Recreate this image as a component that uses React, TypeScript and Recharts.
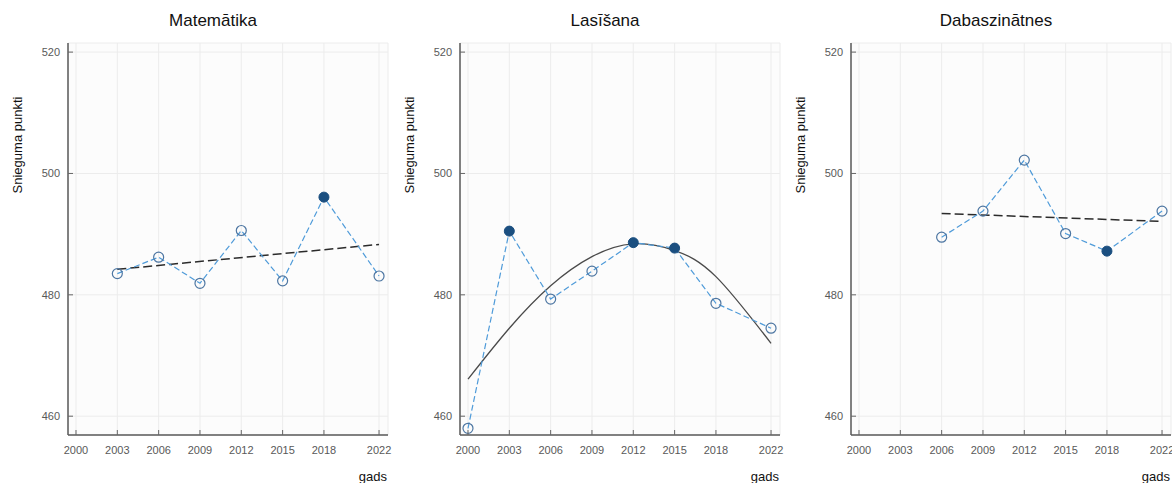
import React from "react";
import { LineChart, Line, XAxis, YAxis, CartesianGrid } from "recharts";

const X_TICKS = [2000, 2003, 2006, 2009, 2012, 2015, 2018, 2022];
const Y_TICKS = [460, 480, 500, 520];

const mathYears = [2003, 2006, 2009, 2012, 2015, 2018, 2022];
const mathScores = [483.5, 486.2, 481.9, 490.6, 482.3, 496.1, 483.1];
const mathFilled = [false, false, false, false, false, true, false];
const mathTrendYears = [2003, 2022];
const mathTrend = [484.2, 488.3];

const readYears = [2000, 2003, 2006, 2009, 2012, 2015, 2018, 2022];
const readScores = [458.0, 490.5, 479.3, 483.9, 488.6, 487.7, 478.6, 474.5];
const readFilled = [false, true, false, false, true, true, false, false];
const readCurveYears = [2000, 2003, 2006, 2009, 2012, 2015, 2018, 2022];
const readCurve = [466.1, 474.5, 481.5, 486.3, 488.4, 487.3, 483.0, 472.0];

const sciYears = [2006, 2009, 2012, 2015, 2018, 2022];
const sciScores = [489.5, 493.8, 502.2, 490.1, 487.2, 493.8];
const sciFilled = [false, false, false, false, true, false];
const sciTrendYears = [2006, 2022];
const sciTrend = [493.4, 492.1];

const FONT = '"Liberation Sans", Arial, sans-serif';
const W = 392;
const H = 483;

type Pt = { year: number; score: number; filled?: boolean };

const toPts = (years: number[], vals: number[], filled?: boolean[]): Pt[] =>
  years.map((y, i) => ({ year: y, score: vals[i], filled: filled ? filled[i] : false }));

const XTick = (props: any) => {
  const { x, y, payload } = props;
  return (
    <g>
      <line x1={x} x2={x} y1={y} y2={y - 5} stroke="#666" strokeWidth={1} />
      <text x={x} y={y + 19} textAnchor="middle" fontSize={11} fill="#595959" fontFamily={FONT}>
        {payload.value}
      </text>
    </g>
  );
};

const YTick = (props: any) => {
  const { x, y, payload } = props;
  return (
    <g>
      <line x1={x} x2={x + 5} y1={y} y2={y} stroke="#666" strokeWidth={1} />
      <text x={x - 8} y={y + 4} textAnchor="end" fontSize={11} fill="#595959" fontFamily={FONT}>
        {payload.value}
      </text>
    </g>
  );
};

const Dot = (props: any) => {
  const { cx, cy, payload, index } = props;
  if (cx == null || cy == null) return null;
  return payload.filled ? (
    <circle key={index} cx={cx} cy={cy} r={5} fill="#1b4f80" stroke="#1b4f80" strokeWidth={1} />
  ) : (
    <circle key={index} cx={cx} cy={cy} r={5} fill="none" stroke="#4d76a2" strokeWidth={1.2} />
  );
};

function Panel({
  title,
  left,
  points,
  trend,
  curved,
}: {
  title: string;
  left: number;
  points: Pt[];
  trend: Pt[];
  curved?: boolean;
}) {
  return (
    <div style={{ position: "absolute", left, top: 0, width: W, height: H }}>
      <LineChart width={W} height={H} margin={{ top: 43, right: 4, bottom: 0, left: 0 }}>
        <CartesianGrid stroke="#ececec" fill="#fcfcfc" verticalPoints={undefined} />
        <XAxis
          type="number"
          dataKey="year"
          domain={[1999.42, 2022.65]}
          ticks={X_TICKS}
          allowDataOverflow
          height={48}
          tickSize={0}
          tickMargin={0}
          tickLine={false}
          tick={<XTick />}
          axisLine={{ stroke: "#5a5a5a", strokeWidth: 1.5 }}
          interval={0}
        />
        <YAxis
          type="number"
          dataKey="score"
          domain={[456.9, 521.5]}
          ticks={Y_TICKS}
          allowDataOverflow
          width={68}
          tickSize={0}
          tickMargin={0}
          tickLine={false}
          tick={<YTick />}
          axisLine={{ stroke: "#5a5a5a", strokeWidth: 1.5 }}
          interval={0}
        />
        {curved ? (
          <Line
            data={trend}
            dataKey="score"
            type="natural"
            stroke="#4a4a4a"
            strokeWidth={1.3}
            dot={false}
            isAnimationActive={false}
          />
        ) : (
          <Line
            data={trend}
            dataKey="score"
            type="linear"
            stroke="#2b2b2b"
            strokeWidth={1.5}
            strokeDasharray="9 4"
            dot={false}
            isAnimationActive={false}
          />
        )}
        <Line
          data={points}
          dataKey="score"
          type="linear"
          stroke="#4f9bd9"
          strokeWidth={1.2}
          strokeDasharray="6 3"
          dot={<Dot />}
          isAnimationActive={false}
        />
      </LineChart>
      <svg
        width={W}
        height={H}
        style={{ position: "absolute", left: 0, top: 0, pointerEvents: "none" }}
      >
        <text x={213} y={26} textAnchor="middle" fontSize={17} fill="#111" fontFamily={FONT}>
          {title}
        </text>
        <text
          x={22}
          y={145}
          textAnchor="middle"
          fontSize={13}
          fill="#111"
          fontFamily={FONT}
          transform="rotate(-90 22 145)"
        >
          Snieguma punkti
        </text>
        <text x={387} y={481} textAnchor="end" fontSize={13} fill="#111" fontFamily={FONT}>
          gads
        </text>
      </svg>
    </div>
  );
}

export default function App() {
  return (
    <div
      style={{
        position: "absolute",
        left: 0,
        top: 0,
        width: 1172,
        height: 483,
        overflow: "hidden",
        background: "#fff",
      }}
    >
      <Panel
        title="Matemātika"
        left={0}
        points={toPts(mathYears, mathScores, mathFilled)}
        trend={toPts(mathTrendYears, mathTrend)}
      />
      <Panel
        title="Lasīšana"
        left={392}
        points={toPts(readYears, readScores, readFilled)}
        trend={toPts(readCurveYears, readCurve)}
        curved
      />
      <Panel
        title="Dabaszinātnes"
        left={783}
        points={toPts(sciYears, sciScores, sciFilled)}
        trend={toPts(sciTrendYears, sciTrend)}
      />
    </div>
  );
}
